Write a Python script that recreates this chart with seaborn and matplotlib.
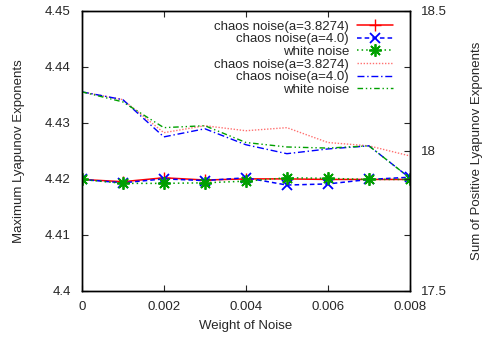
import numpy as np
import pandas as pd
import matplotlib
matplotlib.use("Agg")
import matplotlib.pyplot as plt
import seaborn as sns

sns.set_style("ticks")
plt.rcParams['font.family'] = ['Liberation Sans', 'DejaVu Sans']
plt.rcParams['xtick.direction'] = 'in'
plt.rcParams['ytick.direction'] = 'in'

weights = [0.0, 0.001, 0.002, 0.003, 0.004, 0.005, 0.006, 0.007, 0.008]

# Maximum Lyapunov exponents (left axis)
max_chaos_38274 = [4.4199, 4.4195, 4.4202, 4.4198, 4.4200, 4.4200, 4.4199, 4.4199, 4.4199]
max_chaos_40 = [4.4199, 4.4193, 4.4200, 4.4197, 4.4202, 4.4189, 4.4191, 4.4199, 4.4203]
max_white = [4.4199, 4.4192, 4.4192, 4.4193, 4.4196, 4.4202, 4.4201, 4.4199, 4.4199]

# Sum of positive Lyapunov exponents (right axis)
sum_chaos_38274 = [18.211, 18.183, 18.065, 18.090, 18.072, 18.083, 18.030, 18.018, 17.982]
sum_chaos_40 = [18.211, 18.183, 18.050, 18.079, 18.022, 17.990, 18.007, 18.018, 17.903]
sum_white = [18.211, 18.175, 18.083, 18.090, 18.030, 18.014, 18.010, 18.018, 17.903]

labels = ["chaos noise(a=3.8274)", "chaos noise(a=4.0)", "white noise"]

FS = 9.5
fig = plt.figure(figsize=(4.84, 3.41), dpi=100)
ax = fig.add_axes([0.169, 0.147, 0.678, 0.821])
ax2 = ax.twinx()

asterisk = (8, 2, 0)
style_low = [
    dict(color="#ff0000", linestyle="-", marker="+", markersize=9, mew=1.0),
    dict(color="#0000ff", linestyle=(0, (3, 2)), marker="x", markersize=7, mew=1.3),
    dict(color="#00a000", linestyle=(0, (1, 2)), marker=asterisk, markersize=9, mew=1.3),
]
style_up = [
    dict(color="#ff7070", linestyle=(0, (1, 1.2))),
    dict(color="#0000ff", linestyle=(0, (5, 2, 1, 2))),
    dict(color="#00a000", linestyle=(0, (4, 2, 1, 2, 1, 2))),
]

handles = []
for vals, lab, st in zip([max_chaos_38274, max_chaos_40, max_white], labels, style_low):
    df = pd.DataFrame({"w": weights, "v": vals})
    sns.lineplot(data=df, x="w", y="v", ax=ax, color=st["color"], linestyle=st["linestyle"],
                 marker=st["marker"], markersize=st["markersize"], markeredgewidth=st["mew"],
                 markeredgecolor=st["color"], linewidth=1.1)
    handles.append(ax.lines[-1])

for vals, lab, st in zip([sum_chaos_38274, sum_chaos_40, sum_white], labels, style_up):
    df = pd.DataFrame({"w": weights, "v": vals})
    sns.lineplot(data=df, x="w", y="v", ax=ax2, color=st["color"], linestyle=st["linestyle"],
                 linewidth=1.0)
    handles.append(ax2.lines[-1])

ax.set_xlim(0, 0.008)
ax.set_ylim(4.4, 4.45)
ax2.set_ylim(17.5, 18.5)
ax.set_xticks([0, 0.002, 0.004, 0.006, 0.008])
ax.set_xticklabels(["0", "0.002", "0.004", "0.006", "0.008"], fontsize=FS)
ax.set_yticks([4.4, 4.41, 4.42, 4.43, 4.44, 4.45])
ax.set_yticklabels(["4.4", "4.41", "4.42", "4.43", "4.44", "4.45"], fontsize=FS)
ax2.set_yticks([17.5, 18, 18.5])
ax2.set_yticklabels(["17.5", "18", "18.5"], fontsize=FS)
ax2.set_yticks([17.7, 17.9, 18.1, 18.3], minor=True)
ax.tick_params(axis="x", top=True, length=4, width=0.8, pad=7)
ax.tick_params(axis="y", left=True, right=False, length=4, width=0.8, pad=8)
ax2.tick_params(axis="y", which="both", length=4, width=0.8, pad=8)

ax.set_xlabel("Weight of Noise", fontsize=FS, labelpad=5)
ax.set_ylabel("Maximum Lyapunov Exponents", fontsize=FS, labelpad=14)
ax2.set_ylabel("Sum of Positive Lyapunov Exponents", fontsize=FS, labelpad=17)

for a in (ax, ax2):
    for s in a.spines.values():
        s.set_visible(True)
        s.set_linewidth(1.0)
        s.set_color("black")

leg = ax2.legend(handles, labels + labels, loc="upper right", bbox_to_anchor=(0.963, 0.985),
                 frameon=False, markerfirst=False, fontsize=FS, handlelength=2.7,
                 labelspacing=0.03, handletextpad=0.6, borderaxespad=0.0)
for col in leg._legend_handle_box.get_children():
    col.align = "right"

fig.savefig("out.png", dpi=100)
